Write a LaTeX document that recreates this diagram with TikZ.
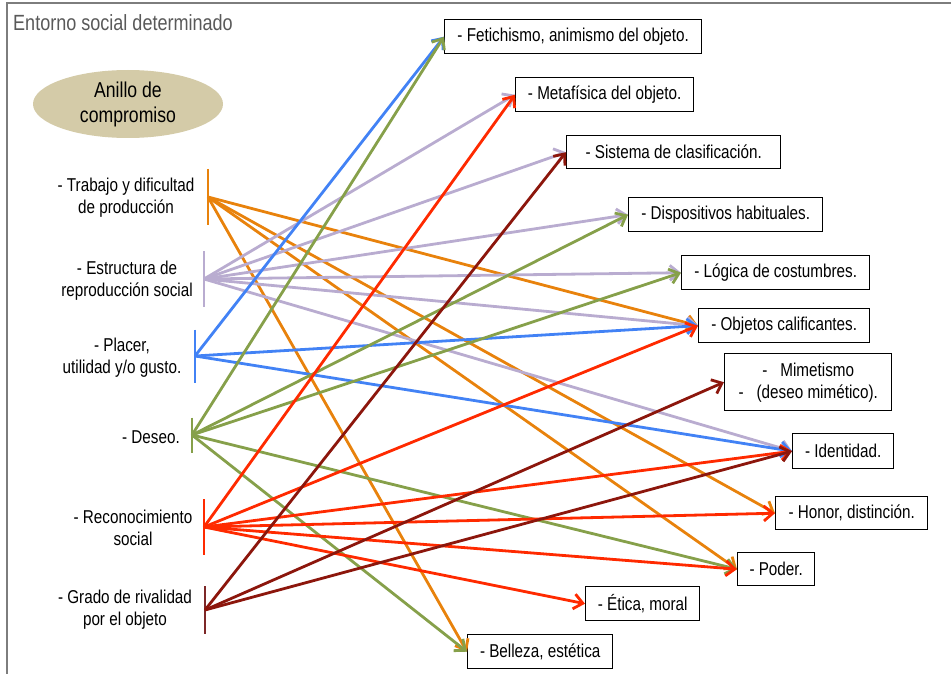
\documentclass[tikz,border=0pt]{standalone}
\usepackage{fontspec}
\setmainfont{Liberation Sans}[FakeStretch=0.82]
\usetikzlibrary{arrows.meta,shapes.geometric}

\definecolor{cOrange}{RGB}{232,130,12}
\definecolor{cLav}{RGB}{185,172,208}
\definecolor{cBlue}{RGB}{66,130,245}
\definecolor{cGreen}{RGB}{134,160,74}
\definecolor{cRed}{RGB}{255,42,0}
\definecolor{cDark}{RGB}{140,22,12}
\definecolor{cDarkBar}{RGB}{125,40,40}
\definecolor{cRing}{RGB}{212,203,168}
\definecolor{cFrame}{RGB}{125,125,125}
\definecolor{cTitle}{RGB}{89,89,89}

\begin{document}
\begin{tikzpicture}[x=1pt,y=-1pt,
  lbl/.style={align=center, font=\fontsize{18.6}{22}\selectfont, inner sep=0pt},
  target/.style={draw=black, line width=1.4pt, fill=white, align=center,
    font=\fontsize{18.6}{22}\selectfont, inner sep=0pt, anchor=north west},
  srcbar/.style={minimum width=0pt, inner sep=0pt, outer sep=0pt},
  barline/.style={line width=2.8pt},
  link/.style={line width=2.8pt, -{Straight Barb[length=9pt,width=15pt]}},
]
\useasboundingbox (0,0) rectangle (951,674);

% surrounding frame (only the top and left sides fall inside the page)
\draw[cFrame, line width=2pt] (7,674) -- (7,3) -- (951,3);
\node[anchor=west, text=cTitle, font=\fontsize{22}{26}\selectfont, inner sep=0pt]
  (title) at (13,23) {Entorno social determinado};

% ring of commitment
\node[ellipse, fill=cRing, minimum width=190pt, minimum height=68pt, align=center,
  font=\fontsize{21.5}{25}\selectfont, inner sep=0pt] (ring) at (128,104)
  {Anillo de\\compromiso};

% source labels
\node[lbl] (l1) at (126,198) {- Trabajo y dificultad\\de producción};
\node[lbl] (l2) at (127,281) {- Estructura de\\reproducción social};
\node[lbl] (l3) at (122,358) {- Placer,\\utilidad y/o gusto.};
\node[lbl] (l4) at (151,437) {- Deseo.};
\node[lbl] (l5) at (133,528) {- Reconocimiento\\social};
\node[lbl] (l6) at (125,610) {- Grado de rivalidad\\por el objeto};

% source bars
\node[srcbar, minimum height=56pt] (b1) at (208,197) {};
\node[srcbar, minimum height=56pt] (b2) at (204,279) {};
\node[srcbar, minimum height=53pt] (b3) at (195,356) {};
\node[srcbar, minimum height=35pt] (b4) at (192,435) {};
\node[srcbar, minimum height=56pt] (b5) at (204,527) {};
\node[srcbar, minimum height=48pt] (b6) at (205,610) {};
\draw[barline, cOrange] (b1.north) -- (b1.south);
\draw[barline, cLav] (b2.north) -- (b2.south);
\draw[barline, cBlue] (b3.north) -- (b3.south);
\draw[barline, cGreen] (b4.north) -- (b4.south);
\draw[barline, cRed] (b5.north) -- (b5.south);
\draw[barline, cDarkBar] (b6.north) -- (b6.south);

% target boxes
\node[target, minimum width=257pt, minimum height=34pt] (fet) at (444,19) {- Fetichismo, animismo del objeto.};
\node[target, minimum width=178pt, minimum height=34pt] (met) at (515,77) {- Metafísica del objeto.};
\node[target, minimum width=214pt, minimum height=33pt] (sis) at (566,135) {- Sistema de clasificación.};
\node[target, minimum width=194pt, minimum height=34pt] (dis) at (628,197) {- Dispositivos habituales.};
\node[target, minimum width=188pt, minimum height=34pt] (log) at (681,255) {- Lógica de costumbres.};
\node[target, minimum width=171pt, minimum height=34pt] (obj) at (698,308) {- Objetos calificantes.};
\node[target, minimum width=167pt, minimum height=57pt] (mim) at (724,353)
  {-\hspace{13pt}Mimetismo\\-\hspace{13pt}(deseo mimético).};
\node[target, minimum width=101pt, minimum height=35pt] (ide) at (792,433) {- Identidad.};
\node[target, minimum width=152pt, minimum height=33pt] (hon) at (775,496) {- Honor, distinción.};
\node[target, minimum width=77pt, minimum height=33pt] (pod) at (737,552) {- Poder.};
\node[target, minimum width=114pt, minimum height=34pt] (eti) at (585,586) {- Ética, moral};
\node[target, minimum width=145pt, minimum height=34pt] (bel) at (467,634) {- Belleza, estética};

% links: work and difficulty of production
\foreach \t in {obj,hon,pod,bel}
  \draw[link, cOrange] (b1.center) -- (\t.west);
% links: structure of social reproduction
\foreach \t in {met,sis,dis,log,obj,ide}
  \draw[link, cLav] (b2.center) -- (\t.west);
% links: pleasure, utility and taste
\foreach \t in {fet,obj,ide}
  \draw[link, cBlue] (b3.center) -- (\t.west);
% links: desire
\foreach \t in {fet,dis,log,pod,bel}
  \draw[link, cGreen] (b4.center) -- (\t.west);
% links: social recognition
\foreach \t in {met,obj,ide,hon,pod,eti}
  \draw[link, cRed] (b5.center) -- (\t.west);
% links: degree of rivalry
\foreach \t in {sis,mim,ide}
  \draw[link, cDark] (b6.center) -- (\t.west);
\end{tikzpicture}
\end{document}
